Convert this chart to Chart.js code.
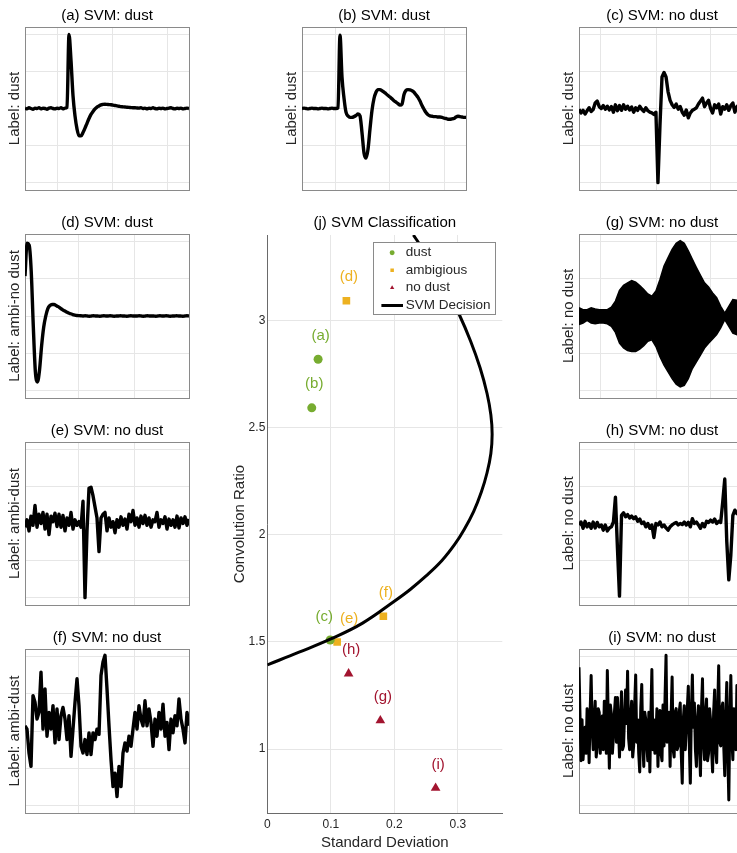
<!DOCTYPE html>
<html><head><meta charset="utf-8">
<script src="https://cdn.jsdelivr.net/npm/chart.js@4.4.1/dist/chart.umd.min.js"></script>
<style>
html,body{margin:0;padding:0;background:#fff;overflow:hidden;width:737px;height:853px;position:relative;}
canvas{position:absolute;}
</style></head><body>
<script>
// ================= DATA =================
// (j) SVM classification scatter
const dustX = [0.080, 0.070, 0.099];
const dustY = [2.82, 2.593, 1.509];
const dustLabels = ['(a)', '(b)', '(c)'];
const ambX = [0.1245, 0.110, 0.1827];
const ambY = [3.093, 1.500, 1.620];
const ambLabels = ['(d)', '(e)', '(f)'];
const noX = [0.178, 0.128, 0.265];
const noY = [1.133, 1.352, 0.818];
const noLabels = ['(g)', '(h)', '(i)'];
// SVM decision boundary
const svmX = [0, 0.05, 0.10, 0.15, 0.20, 0.225, 0.25, 0.275, 0.295, 0.31, 0.325, 0.337, 0.346, 0.352, 0.354,
              0.352, 0.346, 0.335, 0.32, 0.302, 0.28, 0.258, 0.238, 0.23];
const svmY = [1.393, 1.452, 1.514, 1.588, 1.690, 1.745, 1.808, 1.880, 1.955, 2.025, 2.11, 2.20, 2.29, 2.38, 2.47,
              2.56, 2.66, 2.78, 2.905, 3.03, 3.16, 3.28, 3.365, 3.40];
const xTicks = [0, 0.1, 0.2, 0.3];
const xTickLabels = ['0', '0.1', '0.2', '0.3'];
const yTicks = [1, 1.5, 2, 2.5, 3];
const yTickLabels = ['1', '1.5', '2', '2.5', '3'];

// signal panels (normalised amplitude, equally spaced samples)
const sigA = [0.01,-0.01,0.02,0,-0.02,0.01,0,0.02,-0.01,0.01,0,-0.02,0.01,0.02,0,-0.01,0.01,0,0.02,-0.01,0.01,
  0.03,2.0,1.3,0.35,-0.2,-0.55,-0.74,-0.74,-0.65,-0.53,-0.4,-0.27,-0.16,-0.08,-0.01,0.04,0.07,0.1,0.11,0.115,
  0.11,0.105,0.1,0.09,0.08,0.07,0.06,0.05,0.045,0.04,0.035,0.03,0.025,0.02,0.02,0.015,
  0.01,0.02,0,0.01,-0.01,0.01,0,0.02,0,-0.01,0.01,0,0.01,-0.01,0,0.01,0.02,0,-0.01,0.01,0,0.01,-0.01,0,0.01,0];
const sigB = [0,0.01,0,-0.01,0,0.01,0,0,-0.01,0,0.01,0,0,-0.01,0,0.01,0,0,0.02,
  1.98,0.85,0.28,-0.1,-0.2,-0.24,-0.24,-0.22,-0.19,-0.15,-0.2,-0.65,-1.2,-1.34,-1.1,-0.55,-0.05,0.27,0.44,0.51,
  0.51,0.48,0.44,0.4,0.35,0.31,0.26,0.21,0.17,0.13,0.09,0.12,0.38,0.49,0.51,0.5,0.48,0.44,0.37,0.3,
  0.2,0.08,-0.02,-0.11,-0.17,-0.2,-0.21,-0.22,-0.22,-0.23,-0.23,-0.24,-0.26,-0.27,-0.29,-0.29,-0.28,-0.27,-0.23,-0.21,
  -0.22,-0.23,-0.24,-0.24];
const sigC = [-0.02,-0.12,-0.05,-0.15,-0.06,0.02,-0.08,-0.03,0.15,0.2,0.05,0.0,0.08,-0.02,0.06,-0.04,0.05,-0.1,0.1,-0.06,
  0.08,-0.05,0.1,-0.02,0.06,-0.04,0.04,-0.1,0.02,-0.05,0.06,-0.02,-0.08,0.02,-0.06,-0.1,-0.12,-0.16,-0.1,-2.0,
  -0.45,0.85,0.97,0.85,0.45,0.22,0.1,0.03,0.12,-0.02,0.05,-0.1,-0.18,-0.04,-0.25,-0.12,-0.05,-0.02,0.02,0.12,
  0.2,0.28,0.05,0.15,0.22,0.0,-0.12,0.1,0.02,0.12,-0.15,0.05,-0.02,0.1,-0.05,0.08,0.15,-0.1,0.05,0.1,0.0,0.05,-0.02];
const sigD = [1.07,1.95,1.9,1.2,-0.28,-1.5,-1.77,-1.45,-0.8,-0.3,0.0,0.2,0.28,0.31,0.31,0.28,0.25,0.21,0.17,0.14,
  0.11,0.08,0.06,0.04,0.025,0.015,0.01,
  0.005,0,0.005,0,-0.005,0,0.005,0,0,-0.005,0,0.005,0,0,0.005,0,-0.005,0,0,0.005,0,0,-0.005,0,0.005,0,0,0,0.005,
  0,-0.005,0,0.005,0,0,0,-0.005,0,0.005,0,0,0.005,0,-0.005,0,0,0.005,0,0,-0.005,0,0.005,0];
const sigE = [-0.1,0.1,-0.2,0.2,-0.05,0.49,-0.1,0.25,0.0,0.3,-0.15,0.25,-0.3,0.2,0.05,0.28,-0.08,0.25,-0.1,0.22,
  -0.2,0.15,-0.05,0.3,-0.15,0.1,-0.05,0.05,-0.1,0.6,-2.0,-0.2,0.95,0.98,0.75,0.45,0.15,-0.76,0.15,0.25,
  0.3,-0.2,0.15,-0.1,0.05,-0.25,0.1,-0.1,0.18,-0.05,0.12,-0.15,0.25,0.05,0.35,-0.05,0.15,-0.1,0.2,0.0,
  0.22,-0.05,0.15,-0.1,0.1,0.05,0.3,-0.1,0.1,0.0,0.18,-0.15,0.12,-0.05,0.1,-0.1,0.2,-0.12,0.15,0.0,0.18,-0.05,0.12];
const sigF = [0.14,0.05,-0.59,-0.95,0.95,0.77,0.32,0.5,1.58,0.05,1.13,-0.14,0.5,0.05,0.68,-0.32,0.59,-0.23,0.41,0.63,
  0.32,-0.23,0.41,-0.68,0.05,0.77,1.4,0.68,-0.41,-0.59,-0.23,-0.63,-0.05,-0.63,-0.05,-0.23,0.05,-0.09,1.49,1.85,
  2.03,1.13,0.14,-0.77,-1.49,-1.13,-1.76,-0.95,-1.49,-0.59,-0.32,-0.54,-0.14,-0.41,0.05,0.5,0.05,0.68,0.32,0.14,
  0.81,0.14,0.59,0.23,-0.41,0.32,-0.14,0.5,0.05,0.72,-0.14,0.23,-0.5,0.32,-0.05,0.41,0.14,0.86,0.32,0.05,-0.32,0.5,0.14];
const sigGUpper = [0.22,0.17,0.17,0.22,0.19,0.17,0.17,0.17,0.24,0.4,0.69,0.82,0.89,0.95,0.91,0.82,0.71,0.59,0.53,0.67,
  0.98,1.34,1.57,1.79,1.95,2.02,1.95,1.75,1.52,1.3,1.09,0.89,0.78,0.62,0.49,0.26,0.08,0.26,0.44,0.42,0.4,0.35];
const sigGLower = [-0.23,-0.19,-0.12,-0.19,-0.21,-0.19,-0.19,-0.21,-0.28,-0.44,-0.73,-0.86,-0.93,-0.95,-0.95,-0.89,-0.8,-0.68,-0.64,-0.82,
  -1.09,-1.32,-1.5,-1.68,-1.83,-1.9,-1.86,-1.68,-1.41,-1.23,-1.05,-0.86,-0.73,-0.62,-0.5,-0.32,-0.1,-0.28,-0.46,-0.5,-0.46,-0.41];
const sigH = [-0.04,0.04,-0.13,0.06,-0.09,0.0,-0.13,0.04,-0.12,0.03,-0.09,-0.04,-0.18,-0.04,-0.2,-0.12,-0.09,0.04,0.71,-0.67,
  -1.96,0.22,0.29,0.18,0.24,0.15,0.2,0.13,0.18,0.06,0.12,0.0,0.04,-0.09,0.0,-0.13,-0.04,-0.38,0.0,-0.04,
  0.04,-0.09,-0.04,-0.12,-0.18,-0.09,-0.04,0.0,0.03,-0.04,0.0,-0.03,0.04,-0.04,0.03,-0.09,0.13,0.0,0.04,-0.04,
  -0.13,0.0,-0.09,0.06,0.03,0.09,0.04,0.12,0.0,0.06,0.03,0.58,1.2,-0.49,-1.52,-0.85,0.22,0.36,0.27,0.31,0.22,0.27,0.18];
const sigI = [
  1.71,0.4, -0.8,0.3, -0.77,-0.3, 0.1,-0.6, 0.6,0.2, -0.85,0.5, 1.49,0.1, -0.5,0.3, 0.8,-0.7, -0.4,0.6,
  0.5,-0.6, 0.0,0.4, -0.5,0.8, 0.2,-0.6, 1.62,0.2, -1.0,0.7, 0.45,-0.6, -0.15,0.5, 0.9,-0.3, 0.9,0.1,
  -0.7,0.3, 1.05,-0.5, -0.4,0.4, 1.1,0.2, 1.6,-0.2, -0.5,0.4, 0.8,-0.7, -0.4,0.7, 1.5,-0.3, 0.3,-0.6,
  -1.1,0.6, 1.25,-0.3, -0.95,0.5, 0.3,-0.4, -0.8,0.5, -1.1,0.4, 1.65,-0.5, 0.3,-0.6, -0.15,0.6, -0.95,0.2,
  0.55,-0.6, -0.8,0.7, -0.4,0.9, 2.03,-0.3, 0.0,0.5, -0.95,0.4, 1.45,-0.5, -0.7,0.5, 0.6,-0.5, -0.4,0.5,
  0.75,-0.6, -1.4,0.3, 0.68,-0.5, 0.05,0.6, 1.2,-0.4, -1.4,0.5, 1.5,0.1, 0.75,-0.5, -0.95,0.3, 0.68,-0.4,
  -1.2,0.6, 1.4,-0.3, -0.77,0.5, 0.86,-0.8, -0.6,0.6, 0.3,-0.5, -1.1,0.5, 1.1,-0.5, -0.85,0.6, 1.75,-0.3,
  -0.4,0.6, 0.75,-0.4, -1.2,0.4, 1.3,-0.6, -1.85,0.3, 1.49,-0.2, -0.77,0.6, 0.3,-0.5, 1.22,0.3, -0.77,0.6,
  0.5,-0.6, -0.5,0.4, 0.9];
const panelYTicks = [-2, -1, 0, 1, 2];

// ================= STYLE / LAYOUT =================
const FONT = '"Liberation Sans", Arial, Helvetica, sans-serif';
Chart.defaults.font.family = FONT;
Chart.defaults.color = '#262626';
const GRID = '#e6e6e6', BOX = '#8a8a8a', AX = '#6a6a6a';
const GREEN = '#77AC30', ORANGE = '#EDB120', RED = '#A2142F';
const LABEL_DX = {'(c)': -6, '(e)': 12};

function makeCtx(left, top, w, h) {
  const c = document.createElement('canvas');
  c.width = w; c.height = h;
  c.style.left = left + 'px'; c.style.top = top + 'px';
  c.style.width = w + 'px'; c.style.height = h + 'px';
  document.body.appendChild(c);
  return c.getContext('2d');
}
const toPts = arr => arr.map((v, i) => ({x: i / (arr.length - 1), y: v}));

function panel(p) {
  const [L, T, W, H] = p.box;
  const ctx = makeCtx(L - 25, T - 27, W + 35, H + 32);
  let datasets;
  if (p.envelope) {
    datasets = [
      {data: toPts(p.series[0]), borderColor: '#000', backgroundColor: '#000', borderWidth: 1.5, pointRadius: 0, fill: '+1'},
      {data: toPts(p.series[1]), borderColor: '#000', borderWidth: 1.5, pointRadius: 0, fill: false}
    ];
  } else {
    datasets = [{data: toPts(p.series), borderColor: '#000', borderWidth: p.lw || 3.4, pointRadius: 0, fill: false,
      borderJoinStyle: 'round', cubicInterpolationMode: p.smooth ? 'monotone' : 'default', tension: 0}];
  }
  const noTicks = {display: false};
  new Chart(ctx, {
    type: 'line',
    data: {datasets},
    options: {
      responsive: false, animation: false, events: [],
      layout: {padding: {left: 0, top: 0, right: 10, bottom: 5}},
      plugins: {
        legend: {display: false}, tooltip: {enabled: false},
        title: {display: true, text: p.title, color: '#000', fullSize: false,
          font: {family: FONT, size: 15, weight: 'normal', lineHeight: 1.2}, padding: {top: 7, bottom: 2}}
      },
      scales: {
        x: {type: 'linear', min: 0, max: 1,
          afterBuildTicks: s => { s.ticks = p.gridX.map(v => ({value: v})); },
          ticks: noTicks, grid: {color: GRID, drawTicks: false}, border: {color: BOX, width: 1}},
        y: {type: 'linear', min: -2.2, max: 2.2,
          afterBuildTicks: s => { s.ticks = panelYTicks.map(v => ({value: v})); },
          ticks: noTicks, grid: {color: GRID, drawTicks: false}, border: {color: BOX, width: 1},
          title: {display: true, text: p.ylabel, color: '#262626',
            font: {family: FONT, size: 15, weight: 'normal', lineHeight: 1}, padding: {top: 7, bottom: 3}}},
        x2: {type: 'linear', position: 'top', min: 0, max: 1, ticks: noTicks,
          grid: {display: false, drawTicks: false}, border: {display: true, color: BOX, width: 1}},
        y2: {type: 'linear', position: 'right', min: 0, max: 1, ticks: noTicks,
          grid: {display: false, drawTicks: false}, border: {display: true, color: BOX, width: 1}}
      }
    }
  });
}

const G1 = [0.201, 0.533, 0.866], G2 = [0.206, 0.536, 0.868], G3 = [0.131, 0.467, 0.793],
      G4 = [0.329, 0.665], G5 = [0.332, 0.662];
panel({box: [25, 27, 164, 163], title: '(a) SVM: dust', ylabel: 'Label: dust', series: sigA, gridX: G1, smooth: true});
panel({box: [302, 27, 164, 163], title: '(b) SVM: dust', ylabel: 'Label: dust', series: sigB, gridX: G2, smooth: true});
panel({box: [579, 27, 166, 163], title: '(c) SVM: no dust', ylabel: 'Label: dust', series: sigC, gridX: G3});
panel({box: [25, 234, 164, 164], title: '(d) SVM: dust', ylabel: 'Label: ambi-no dust', series: sigD, gridX: G4, smooth: true});
panel({box: [25, 442, 164, 163], title: '(e) SVM: no dust', ylabel: 'Label: ambi-dust', series: sigE, gridX: G4});
panel({box: [25, 649, 164, 164], title: '(f) SVM: no dust', ylabel: 'Label: ambi-dust', series: sigF, gridX: G4});
panel({box: [579, 234, 166, 164], title: '(g) SVM: no dust', ylabel: 'Label: no dust', series: [sigGUpper, sigGLower], gridX: G3, envelope: true});
panel({box: [579, 442, 166, 163], title: '(h) SVM: no dust', ylabel: 'Label: no dust', series: sigH, gridX: G5});
panel({box: [579, 649, 166, 164], title: '(i) SVM: no dust', ylabel: 'Label: no dust', series: sigI, gridX: G5, lw: 3});

// ================= MAIN CHART (j) =================
// legend glyph for the decision line (a short thick black stroke)
const lineGlyph = document.createElement('canvas');
lineGlyph.width = 22; lineGlyph.height = 3;
(function () { const g = lineGlyph.getContext('2d'); g.fillStyle = '#000'; g.fillRect(0, 0, 22, 3); })();

const pointLabelPlugin = {
  id: 'pointLabels',
  afterDatasetsDraw(chart) {
    const {ctx, scales: {x, y}} = chart;
    ctx.save();
    ctx.font = '15px ' + FONT; ctx.textAlign = 'center'; ctx.textBaseline = 'middle';
    chart.data.datasets.forEach(ds => {
      if (!ds.pointLabels) return;
      ctx.fillStyle = ds.borderColor;
      ds.data.forEach((pt, i) => {
        const t = ds.pointLabels[i];
        const dx = (t in LABEL_DX) ? LABEL_DX[t] : 2.5;
        ctx.fillText(t, x.getPixelForValue(pt.x) + dx, y.getPixelForValue(pt.y) - 23.5);
      });
    });
    ctx.restore();
  }
};
const legendFramePlugin = {
  id: 'legendFrame',
  afterLayout(chart) {
    const lg = chart.legend, ca = chart.chartArea;
    lg.left = ca.right - 120.9;
    lg.top = ca.top + 7;
    lg.bottom = ca.bottom;
  },
  afterDatasetsDraw(chart) {
    const {ctx, chartArea: ca} = chart;
    const x0 = Math.round(ca.right - 129) + 0.5, y0 = Math.round(ca.top + 6.7) + 0.5;
    ctx.save();
    ctx.fillStyle = '#fff';
    ctx.fillRect(x0, y0, 122, 72);
    ctx.strokeStyle = '#8a8a8a'; ctx.lineWidth = 1;
    ctx.strokeRect(x0, y0, 122, 72);
    ctx.restore();
    chart.legend.draw();
  }
};

const mainCtx = makeCtx(200, 200, 320, 653);
new Chart(mainCtx, {
  type: 'scatter',
  data: {
    datasets: [
      {label: 'dust', data: dustX.map((v, i) => ({x: v, y: dustY[i]})), pointLabels: dustLabels,
        pointStyle: 'circle', pointRadius: 4.5, backgroundColor: GREEN, borderColor: GREEN, borderWidth: 0, order: 1},
      {label: 'ambigious', data: ambX.map((v, i) => ({x: v, y: ambY[i]})), pointLabels: ambLabels,
        pointStyle: 'rect', pointRadius: 5.4, backgroundColor: ORANGE, borderColor: ORANGE, borderWidth: 0, order: 1},
      {label: 'no dust', data: noX.map((v, i) => ({x: v, y: noY[i]})), pointLabels: noLabels,
        pointStyle: 'triangle', pointRadius: 5.6, backgroundColor: RED, borderColor: RED, borderWidth: 0, order: 1},
      {label: 'SVM Decision', data: svmX.map((v, i) => ({x: v, y: svmY[i]})), showLine: true,
        borderColor: '#000', borderWidth: 3, tension: 0.4, pointRadius: 0, pointStyle: lineGlyph,
        pointBorderColor: '#000', pointBorderWidth: 0, backgroundColor: '#000', order: 0}
    ]
  },
  options: {
    responsive: false, animation: false, events: [],
    layout: {padding: {left: 30, top: 0, right: 17.7, bottom: 0}},
    plugins: {
      tooltip: {enabled: false},
      title: {display: true, text: '(j) SVM Classification', color: '#000', fullSize: false,
        font: {family: FONT, size: 15, weight: 'normal', lineHeight: 1.2}, padding: {top: 13.7, bottom: 3.3}},
      legend: {display: true, position: 'chartArea', align: 'start',
        labels: {usePointStyle: true, boxHeight: 3.5, padding: 4, color: '#262626',
          font: {family: FONT, size: 13.5}, sort: (a, b) => a.datasetIndex - b.datasetIndex}}
    },
    scales: {
      x: {type: 'linear', min: 0, max: 0.37,
        afterBuildTicks: s => { s.ticks = xTicks.map(v => ({value: v})); },
        ticks: {callback: (v, i) => xTickLabels[i], color: '#262626', font: {family: FONT, size: 12}, padding: 4.5,
          maxRotation: 0, autoSkip: false},
        grid: {color: GRID, drawTicks: false}, border: {color: AX, width: 1},
        title: {display: true, text: 'Standard Deviation', color: '#262626',
          font: {family: FONT, size: 15, weight: 'normal', lineHeight: 0.8}, padding: {top: 0.3, bottom: 4}}},
      y: {type: 'linear', min: 0.7, max: 3.4,
        afterBuildTicks: s => { s.ticks = yTicks.map(v => ({value: v})); },
        ticks: {callback: (v, i) => yTickLabels[i], color: '#262626', font: {family: FONT, size: 12}, padding: 2,
          autoSkip: false},
        grid: {color: GRID, drawTicks: false}, border: {color: AX, width: 1},
        title: {display: true, text: 'Convolution Ratio', color: '#262626',
          font: {family: FONT, size: 15, weight: 'normal', lineHeight: 0.8}, padding: {top: 4, bottom: 0.62}}}
    }
  },
  plugins: [pointLabelPlugin, legendFramePlugin]
});
</script>
</body></html>
